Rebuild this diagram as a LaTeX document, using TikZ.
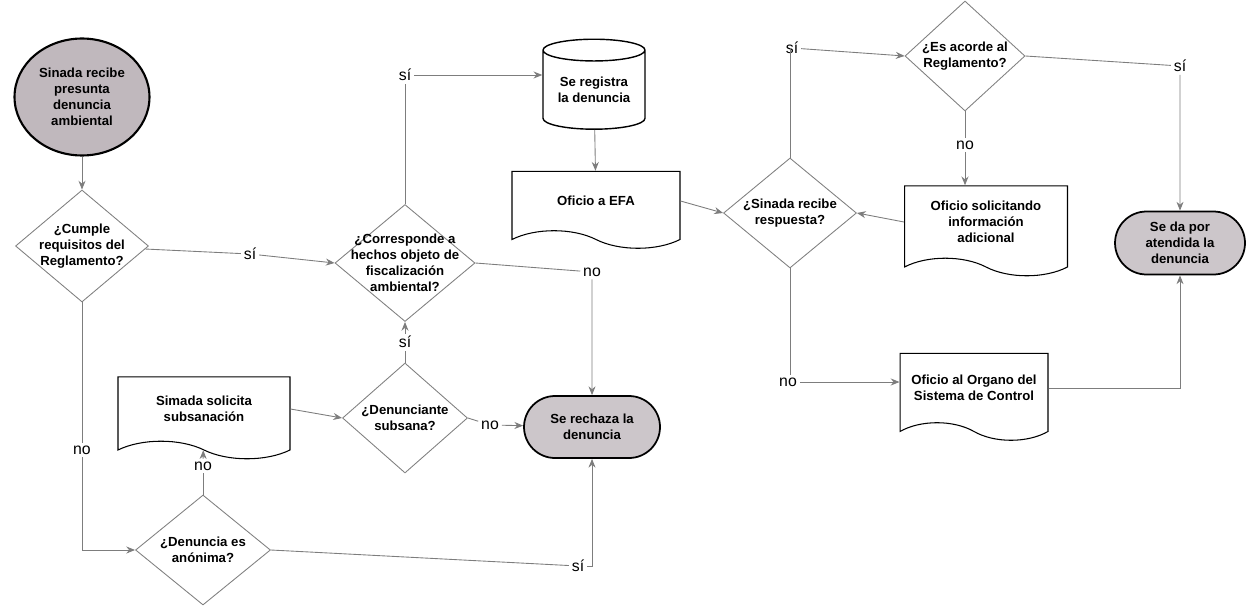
\documentclass[tikz,border=0pt]{standalone}
\usepackage{fontspec}
\setmainfont{Liberation Sans}
\usepackage{tikz}
\usetikzlibrary{shapes.geometric,shapes.symbols,shapes.misc}
\usetikzlibrary{arrows.meta}
\definecolor{termgray}{RGB}{204,198,202}
\definecolor{startgray}{RGB}{192,184,189}
\definecolor{wiregray}{RGB}{125,125,125}
\newcommand{\boxfont}{\bfseries\fontsize{7.5}{9}\selectfont}
\tikzstyle{wire}=[draw=wiregray, line width=0.5pt]
\tikzstyle{wire>}=[wire, -{Stealth[length=5pt,width=4pt]}]
\tikzstyle{yn}=[font=\fontsize{9}{10}\selectfont, inner sep=1.5pt]
\tikzstyle{dtext}=[font=\boxfont, align=center]
\tikzstyle{decision}=[diamond, draw=gray, line width=0.5pt, inner sep=0pt]
\tikzstyle{docbox}=[tape, tape bend top=none, tape bend bottom=out and in, tape bend height=10pt, draw, line width=0.6pt, font=\boxfont, align=center, inner sep=0pt]
\tikzstyle{termbox}=[rounded rectangle, draw, line width=1pt, fill=termgray, font=\boxfont, align=center, inner sep=0pt]

\begin{document}
\begin{tikzpicture}[x=0.02cm,y=-0.02cm]
\useasboundingbox (0,0) rectangle (1250,608);
% left column
\node[ellipse, draw, line width=1.2pt, fill=startgray, minimum width=2.7cm, minimum height=2.34cm, inner sep=0pt, font=\boxfont, align=center] (start) at (82,97) {Sinada recibe\\presunta\\denuncia\\ambiental};
\node[decision, minimum width=2.66cm, minimum height=2.24cm, label={[dtext]center:{¿Cumple\\requisitos del\\Reglamento?}}] (cumple) at (82,246) {};
\node[decision, minimum width=2.8cm, minimum height=2.34cm, label={[dtext]center:{¿Corresponde a\\hechos objeto de\\fiscalización\\ambiental?}}] (corresp) at (405,263) {};
\node[cylinder, shape border rotate=90, aspect=0.3, draw, line width=0.8pt, minimum width=2.04cm, minimum height=1.8cm, inner sep=0pt, font=\boxfont, align=center] (registra) at (594,90) {Se registra\\la denuncia};
\node[docbox, minimum width=3.36cm, minimum height=1.54cm] (efa) at (596,201) {Oficio a EFA};
\node[docbox, minimum width=3.44cm, minimum height=1.64cm] (subsana) at (204,409) {Simada solicita\\subsanación};
\node[decision, minimum width=2.5cm, minimum height=2.2cm, label={[dtext]center:{¿Denunciante\\subsana?}}] (denun) at (405,418) {};
\node[termbox, minimum width=2.72cm, minimum height=1.24cm] (rechaza) at (592,427) {Se rechaza la\\denuncia};
\node[decision, minimum width=2.7cm, minimum height=2.2cm, label={[dtext]center:{¿Denuncia es\\anónima?}}] (anon) at (203,550) {};
% right part
\node[decision, minimum width=2.66cm, minimum height=2.2cm, label={[dtext]center:{¿Sinada recibe\\respuesta?}}] (resp) at (790,213) {};
\node[decision, minimum width=2.4cm, minimum height=2.2cm, label={[dtext]center:{¿Es acorde al\\Reglamento?}}] (acorde) at (965,56) {};
\node[docbox, minimum width=3.26cm, minimum height=1.8cm] (infoadic) at (986,222) {Oficio solicitando\\información\\adicional};
\node[termbox, minimum width=2.6cm, minimum height=1.26cm] (atendida) at (1180,243) {Se da por\\atendida la\\denuncia};
\node[docbox, minimum width=2.96cm, minimum height=1.74cm] (organo) at (974,388) {Oficio al Organo del\\Sistema de Control};
% yes / no labels
\node[yn] (si1) at (250,254) {sí};
\node[yn] (si2) at (405,75) {sí};
\node[yn] (no1) at (592,272) {no};
\node[yn] (no2) at (490,425) {no};
\node[yn] (no3) at (203,466) {no};
\node[yn] (no4) at (82,450) {no};
\node[yn] (si3) at (578,566) {sí};
\node[yn] (si4) at (792,48) {sí};
\node[yn] (si5) at (1180,66) {sí};
\node[yn] (no5) at (965,145) {no};
\node[yn] (no6) at (788,382) {no};
% connectors
\draw[wire>] (start) -- (cumple);
\draw[wire] (cumple) -- (si1);
\draw[wire>] (si1) -- (corresp.west);
\draw[wire] (corresp) -- (si2);
\draw[wire>] (si2) -- (si2 -| registra.west);
\draw[wire>] (registra) -- (efa);
\draw[wire] (corresp.east) -- (no1);
\draw[wire>] (no1) -- (rechaza);
\draw[wire>] (subsana.east) -- (denun.west);
\draw[wire>] (denun) -- node[yn, fill=white] {sí} (corresp);
\draw[wire] (denun.east) -- (no2);
\draw[wire>] (no2) -- (rechaza);
\draw[wire] (anon) -- (no3);
\draw[wire>] (no3) -- (subsana);
\draw[wire] (cumple) -- (no4);
\draw[wire>] (no4) |- (anon.west);
\draw[wire] (anon.east) -- (si3);
\draw[wire>] (si3) -| (rechaza.south);
\draw[wire>] (efa.east) -- (resp.west);
\draw[wire] (resp) -- (resp |- si4);
\draw[wire>] (si4) -- (acorde.west);
\draw[wire] (acorde.east) -- (si5);
\draw[wire>] (si5) -- (atendida);
\draw[wire] (acorde) -- (no5);
\draw[wire>] (no5) -- (no5 |- infoadic.north);
\draw[wire>] (infoadic.west) -- (resp.east);
\draw[wire] (resp) -- (resp |- no6.north);
\draw[wire>] (no6) -- (no6 -| organo.west);
\draw[wire>] (organo.east) -| (atendida.south);
\end{tikzpicture}
\end{document}
